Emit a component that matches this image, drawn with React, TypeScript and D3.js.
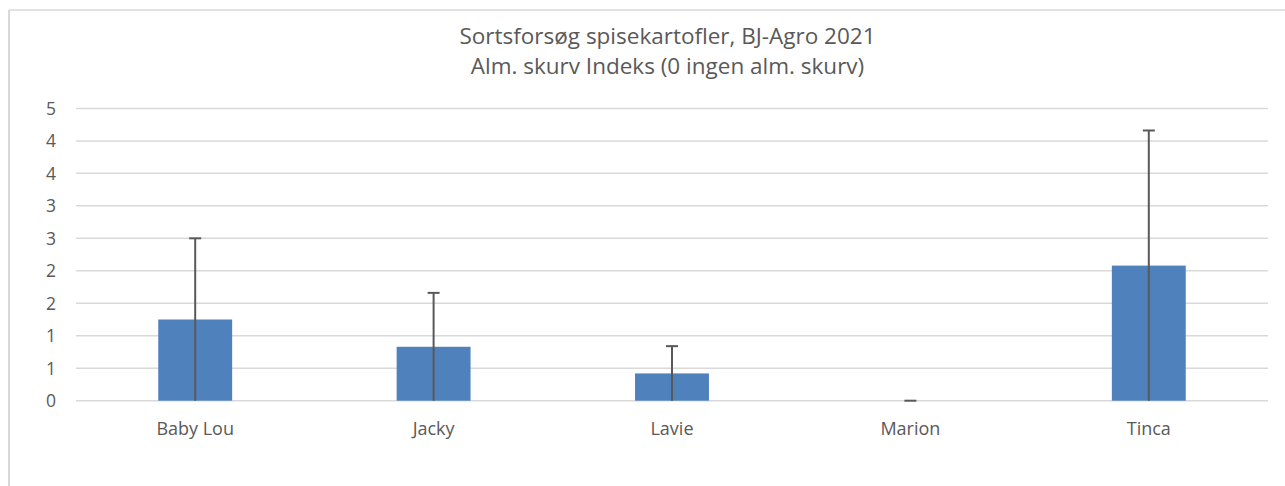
import React from "react";
import * as d3 from "d3";

const categories = ["Baby Lou", "Jacky", "Lavie", "Marion", "Tinca"];
const values = [1.25, 0.83, 0.42, 0, 2.08];
const errors = [1.25, 0.83, 0.42, 0, 2.08];
const yTicks = [0, 0.5, 1, 1.5, 2, 2.5, 3, 3.5, 4, 4.5];
const titleLines = ["Sortsforsøg spisekartofler, BJ-Agro 2021", "Alm. skurv Indeks (0 ingen alm. skurv)"];

const W = 1285;
const H = 486;
const FONT = "'Open Sans', 'Noto Sans', sans-serif";
const TEXT = "#595959";

export default function App() {
  const x = d3.scaleBand<string>().domain(categories).range([76, 1268]).paddingInner(0.69).paddingOuter(0.345);
  const y = d3.scaleLinear().domain([0, 4.5]).range([400.7, 108.4]);
  const fmt = (v: number) => String(Math.round(v));
  return (
    <svg width={W} height={H} style={{ position: "absolute", left: 0, top: 0, background: "#fff" }}>
      <rect x={0} y={0} width={W} height={H} fill="#fff" />
      <line x1={9} y1={10} x2={W} y2={10} stroke="#d9d9d9" strokeWidth={1.5} />
      <line x1={9} y1={10} x2={9} y2={H} stroke="#d9d9d9" strokeWidth={2} />
      {titleLines.map((t, i) => (
        <text key={t} x={667.5} y={44 + i * 30} textAnchor="middle" fontFamily={FONT} fontSize={22.5} fill={TEXT}>
          {t}
        </text>
      ))}
      {yTicks.map((t) => (
        <g key={t}>
          <line x1={76} x2={1268} y1={y(t)} y2={y(t)} stroke="#d9d9d9" strokeWidth={1.5} />
          <text x={56} y={y(t)} dy="0.36em" textAnchor="end" fontFamily={FONT} fontSize={17.5} fill={TEXT}>
            {fmt(t)}
          </text>
        </g>
      ))}
      {categories.map((c, i) => {
        const bx = x(c) as number;
        const bw = x.bandwidth();
        const cx = bx + bw / 2;
        const v = values[i];
        const e = errors[i];
        return (
          <g key={c}>
            <rect x={bx} y={y(v)} width={bw} height={y(0) - y(v)} fill="#4f81bd" />
            <line x1={cx} x2={cx} y1={y(Math.max(0, v - e))} y2={y(v + e)} stroke="#595959" strokeWidth={2} />
            <line x1={cx - 6} x2={cx + 6} y1={y(v + e)} y2={y(v + e)} stroke="#595959" strokeWidth={2} />
            <text x={cx} y={435} textAnchor="middle" fontFamily={FONT} fontSize={18} fill={TEXT}>
              {c}
            </text>
          </g>
        );
      })}
    </svg>
  );
}
